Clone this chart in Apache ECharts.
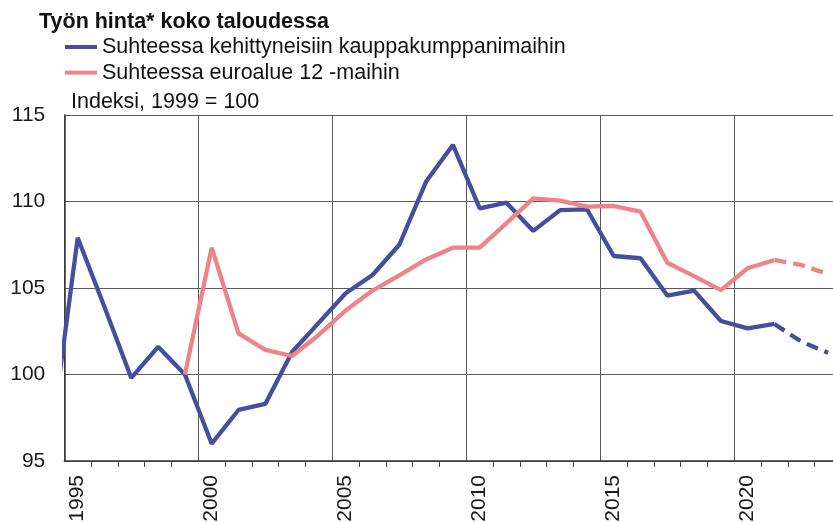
<!DOCTYPE html>
<html lang="fi">
<head>
    <meta charset="UTF-8">
    <title>Työn hinta</title>
    <style>
        html, body { margin: 0; padding: 0; background: #ffffff; }
        #chart { width: 833px; height: 522px; }
    </style>
</head>
<body>
<div id="chart"></div>
<script src="https://cdn.jsdelivr.net/npm/echarts@6/dist/echarts.min.js"></script>
<script>
    // vuodet ja indeksit (1999 = 100), luettu kuvasta
    var years = [1994, 1995, 1996, 1997, 1998, 1999, 2000, 2001, 2002, 2003, 2004, 2005, 2006, 2007, 2008,
        2009, 2010, 2011, 2012, 2013, 2014, 2015, 2016, 2017, 2018, 2019, 2020, 2021, 2022, 2023];
    var developed = [96.2, 107.9, 103.9, 99.8, 101.6, 100.0, 96.0, 97.95, 98.3, 101.3, 103.0, 104.7, 105.75, 107.5, 111.15,
        113.27, 109.6, 109.93, 108.3, 109.5, 109.55, 106.85, 106.72, 104.56, 104.85, 103.09, 102.67, 102.92, 101.9, 101.26];
    var euro12 = [null, null, null, null, null, 100.0, 107.33, 102.38, 101.42, 101.07, 102.3, 103.7, 104.85, 105.73, 106.65,
        107.33, 107.33, 108.75, 110.18, 110.05, 109.7, 109.74, 109.41, 106.46, 105.69, 104.88, 106.14, 106.62, 106.33, 105.8];
    var forecastFrom = 2021;
    var labelYears = [];
    for (var y = 1995; y <= 2023; y++) labelYears.push(String(y));

    var names = ['Suhteessa kehittyneisiin kauppakumppanimaihin', 'Suhteessa euroalue 12 -maihin'];
    var blue = '#444f9f';
    var pink = '#ef8487';
    var font = 'Liberation Sans, Arial, sans-serif';

    function pairs(values, fromYear, toYear) {
        var out = [];
        for (var i = 0; i < years.length; i++) {
            if (values[i] == null) continue;
            if (years[i] < fromYear || years[i] > toYear) continue;
            out.push([years[i], values[i]]);
        }
        return out;
    }

    function lineSeries(name, color, data, dashed) {
        return {
            name: name,
            type: 'line',
            xAxisIndex: 0,
            showSymbol: false,
            symbol: 'none',
            clip: true,
            lineStyle: { color: color, width: 4.3, type: dashed ? [12, 7] : 'solid' },
            itemStyle: { color: color },
            data: data
        };
    }

    var chart = echarts.init(document.getElementById('chart'));
    chart.setOption({
        animation: false,
        textStyle: { fontFamily: font },
        title: [{
            text: 'Työn hinta* koko taloudessa',
            left: 39, top: 11, padding: 0,
            textStyle: { fontFamily: font, fontSize: 21.5, fontWeight: 'bold', color: '#111' }
        }, {
            text: 'Indeksi, 1999 = 100',
            left: 71, top: 91, padding: 0,
            textStyle: { fontFamily: font, fontSize: 21.5, fontWeight: 'normal', color: '#111' }
        }],
        legend: {
            data: names,
            orient: 'vertical',
            left: 65, top: 36,
            padding: 0,
            icon: 'rect',
            itemWidth: 32, itemHeight: 4,
            itemGap: 3.6,
            selectedMode: false,
            textStyle: { fontFamily: font, fontSize: 21.5, color: '#111', lineHeight: 22 }
        },
        grid: { left: 64.3, top: 115, bottom: 61, right: -8.5, outerBoundsMode: 'none' },
        xAxis: [{
            type: 'value',
            min: 1994.5, max: 2023.5, interval: 5,
            axisLabel: { show: false },
            axisLine: { show: true, onZero: false, lineStyle: { color: '#333', width: 1.5 } },
            axisTick: { show: false },
            minorTick: { show: true, splitNumber: 5, length: 6, lineStyle: { color: '#444', width: 1 } },
            splitLine: { show: true, lineStyle: { color: '#5a5a5a', width: 1 } }
        }, {
            type: 'category',
            position: 'bottom',
            data: labelYears,
            boundaryGap: true,
            axisLine: { show: false },
            axisTick: { show: false },
            splitLine: { show: false },
            axisLabel: { interval: 4, rotate: 90, margin: 14, fontSize: 21, fontFamily: font, color: '#1a1a1a' }
        }],
        yAxis: {
            type: 'value',
            min: 95, max: 115, interval: 5,
            axisLine: { show: true, lineStyle: { color: '#333', width: 1.5 } },
            axisTick: { show: false },
            axisLabel: { margin: 19, fontSize: 21, fontFamily: font, color: '#1a1a1a' },
            splitLine: { show: true, lineStyle: { color: '#5a5a5a', width: 1 } }
        },
        series: [
            lineSeries(names[0], blue, pairs(developed, 1994, forecastFrom), false),
            lineSeries(names[1], pink, pairs(euro12, 1994, forecastFrom), false),
            lineSeries(names[0] + ' ennuste', blue, pairs(developed, forecastFrom, 2023), true),
            lineSeries(names[1] + ' ennuste', pink, pairs(euro12, forecastFrom, 2023), true)
        ]
    });
</script>
</body>
</html>
